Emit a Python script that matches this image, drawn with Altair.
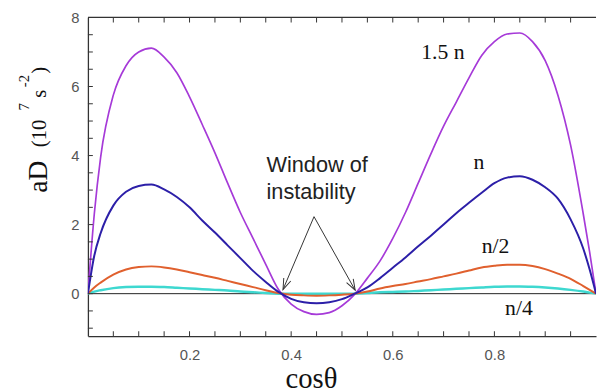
import altair as alt
import pandas as pd

# ---------------- data ----------------
X = [0, 0.0125, 0.025, 0.05, 0.075, 0.1, 0.125, 0.15, 0.175, 0.2, 0.225, 0.25,
     0.275, 0.3, 0.325, 0.35, 0.375, 0.4, 0.425, 0.45, 0.475, 0.5, 0.525, 0.55,
     0.575, 0.6, 0.625, 0.65, 0.675, 0.7, 0.725, 0.75, 0.775, 0.8, 0.825, 0.85,
     0.875, 0.9, 0.925, 0.95, 0.975, 0.9875, 1.0]

N15 = [0, 2.3, 3.95, 5.75, 6.6, 7.0, 7.11, 6.85, 6.4, 5.7, 4.9, 4.08, 3.2, 2.35,
       1.6, 0.85, 0.12, -0.3, -0.52, -0.6, -0.55, -0.35, -0.02, 0.45, 0.95, 1.6,
       2.35, 3.2, 4.05, 4.85, 5.55, 6.25, 6.9, 7.3, 7.52, 7.55, 7.3, 6.75, 5.75,
       4.3, 2.3, 1.2, 0]
N1 = [0, 1.1, 1.75, 2.55, 2.95, 3.12, 3.16, 3.02, 2.8, 2.5, 2.12, 1.77, 1.4, 1.03,
      0.66, 0.34, 0.05, -0.15, -0.25, -0.28, -0.25, -0.16, 0.0, 0.18, 0.45, 0.75,
      1.05, 1.37, 1.68, 2.0, 2.33, 2.63, 2.92, 3.2, 3.36, 3.4, 3.3, 3.08, 2.75,
      2.15, 1.3, 0.7, 0]
N2 = [0, 0.18, 0.32, 0.55, 0.7, 0.77, 0.79, 0.76, 0.7, 0.62, 0.54, 0.46, 0.37,
      0.28, 0.19, 0.1, 0.02, -0.03, -0.05, -0.06, -0.05, -0.03, 0.0, 0.06, 0.15,
      0.22, 0.28, 0.35, 0.42, 0.5, 0.58, 0.67, 0.76, 0.81, 0.84, 0.84, 0.8, 0.71,
      0.58, 0.43, 0.22, 0.11, 0]
N4 = [0, 0.06, 0.1, 0.16, 0.19, 0.2, 0.2, 0.19, 0.17, 0.15, 0.13, 0.11, 0.09,
      0.06, 0.04, 0.02, 0.0, 0.0, 0.0, 0.0, 0.0, 0.0, 0.0, 0.02, 0.04, 0.05, 0.06,
      0.08, 0.1, 0.12, 0.14, 0.16, 0.18, 0.2, 0.21, 0.21, 0.2, 0.18, 0.15, 0.11,
      0.06, 0.03, 0]

X_LABELS = [0.2, 0.4, 0.6, 0.8]
Y_LABELS = [0, 2, 4, 6, 8]
X_TICKS = [0.05, 0.1, 0.15, 0.2, 0.25, 0.3, 0.35, 0.4, 0.45, 0.5, 0.55, 0.6,
           0.65, 0.7, 0.75, 0.8, 0.85, 0.9, 0.95]
Y_TICKS = [-1, -0.5, 0, 0.5, 1, 1.5, 2, 2.5, 3, 3.5, 4, 4.5, 5, 5.5, 6, 6.5,
           7, 7.5]

# annotations (data coordinates)
ARROW_APEX = (0.445, 2.23)
ARROW_TIPS = [(0.384, 0.12), (0.526, 0.10)]
ARROW_ANGLES = [23, 331]
CURVE_LABELS = ["1.5 n", "n", "n/2", "n/4"]
CURVE_LABEL_X = [0.656, 0.759, 0.775, 0.821]
CURVE_LABEL_Y = [6.79, 3.61, 1.19, -0.63]

W, H = 515, 323
xscale = alt.Scale(domain=[0, 1], nice=False, zero=False)
yscale = alt.Scale(domain=[-1.23, 8.0], nice=False, zero=False)

AX = "#333333"
LAB = "#555555"

bottom_axis = alt.Axis(orient="bottom", values=X_LABELS, format=".1f", ticks=False,
                       tickSize=0, labelPadding=12, labelFont="Liberation Sans",
                       labelFontSize=15, labelColor=LAB, domainColor=AX,
                       domainWidth=1.3, grid=False, title=None)
left_axis = alt.Axis(orient="left", values=Y_LABELS, format="d", ticks=False,
                     tickSize=0, labelPadding=9, labelFont="Liberation Sans",
                     labelFontSize=15, labelColor=LAB, domainColor=AX,
                     domainWidth=1.3, grid=False, title=None)


def series_df(vals):
    return pd.DataFrame({"x": X, "y": vals})


def xq(field="x"):
    return alt.X(f"{field}:Q", scale=xscale, axis=None)


def yq(field="y"):
    return alt.Y(f"{field}:Q", scale=yscale, axis=None)


# curves (first layer carries the labelled axes)
l15 = alt.Chart(series_df(N15)).mark_line(
    color="#a63ad8", strokeWidth=1.7, clip=True, interpolate="monotone"
).encode(x=alt.X("x:Q", scale=xscale, axis=bottom_axis),
         y=alt.Y("y:Q", scale=yscale, axis=left_axis))
l1 = alt.Chart(series_df(N1)).mark_line(
    color="#2c1fa8", strokeWidth=2.0, clip=True, interpolate="monotone"
).encode(x=xq(), y=yq())
l2 = alt.Chart(series_df(N2)).mark_line(
    color="#e0602e", strokeWidth=2.0, clip=True, interpolate="monotone"
).encode(x=xq(), y=yq())
l4 = alt.Chart(series_df(N4)).mark_line(
    color="#3ed8d0", strokeWidth=2.5, clip=True, interpolate="monotone"
).encode(x=xq(), y=yq())

# frame decorations: inward ticks and top frame line
xt = pd.DataFrame({"x": X_TICKS})
yt = pd.DataFrame({"y": Y_TICKS})
ticks_bottom = alt.Chart(xt).mark_tick(
    orient="vertical", size=5, thickness=1, color=AX, opacity=1
).encode(x=xq(), y=alt.value(H - 2.5))
ticks_top = alt.Chart(xt).mark_tick(
    orient="vertical", size=5, thickness=1, color=AX, opacity=1
).encode(x=xq(), y=alt.value(2.5))
ticks_left = alt.Chart(yt).mark_tick(
    orient="horizontal", size=5, thickness=1, color=AX, opacity=1
).encode(y=yq(), x=alt.value(2.5))
top_frame = alt.Chart(pd.DataFrame({"y": [8.0]})).mark_rule(
    color=AX, strokeWidth=1.3
).encode(y=yq())

zero = alt.Chart(pd.DataFrame({"y": [0.0]})).mark_rule(
    color="#222222", strokeWidth=1
).encode(y=yq())

arrow_df = pd.DataFrame({
    "x": [ARROW_APEX[0]] * 2, "y": [ARROW_APEX[1]] * 2,
    "x2": [t[0] for t in ARROW_TIPS], "y2": [t[1] for t in ARROW_TIPS],
})
arrows = alt.Chart(arrow_df).mark_rule(color="#333333", strokeWidth=1).encode(
    x=xq(), y=yq(), x2="x2:Q", y2="y2:Q")

head_df = pd.DataFrame({"x": [t[0] for t in ARROW_TIPS],
                        "y": [t[1] for t in ARROW_TIPS],
                        "ang": ARROW_ANGLES})
heads = alt.Chart(head_df).mark_point(
    shape="M-0.35,-1L0,0L0.35,-1", filled=False, color="#333333",
    strokeWidth=1, size=484, opacity=1
).encode(x=xq(), y=yq(), angle=alt.Angle("ang:Q", scale=None))

win_df = pd.DataFrame({"x": [0.3515], "y": [3.51]})
window = alt.Chart(win_df).mark_text(
    text=["Window of", "instability"], font="Liberation Sans", fontSize=22,
    lineHeight=26.5, align="left", baseline="alphabetic", color="#222222"
).encode(x=xq(), y=yq())

lab_df = pd.DataFrame({"x": CURVE_LABEL_X, "y": CURVE_LABEL_Y, "t": CURVE_LABELS})
labels = alt.Chart(lab_df).mark_text(
    font="Liberation Serif", fontSize=22, align="left", baseline="alphabetic",
    color="#111111"
).encode(x=xq(), y=yq(), text="t:N")

ytitle_df = pd.DataFrame({
    "t": ["aD", "(10", "7", "s", "-2", ")"],
    "x": [-0.0796, -0.0816, -0.1165, -0.0816, -0.1165, -0.0816],
    "y": [3.39, 4.64, 5.41, 5.79, 6.16, 6.47],
    "fs": [28, 21, 15, 21, 15, 21],
})
ytitle = alt.Chart(ytitle_df).mark_text(
    font="Liberation Serif", angle=270, align="center", baseline="alphabetic",
    color="#111111"
).encode(x=xq(), y=yq(), text="t:N", size=alt.Size("fs:Q", scale=None))

xtitle_df = pd.DataFrame({"x": [0.44], "y": [-2.72], "t": ["cosθ"]})
xtitle = alt.Chart(xtitle_df).mark_text(
    font="Liberation Serif", fontSize=29, align="center", baseline="alphabetic",
    color="#111111"
).encode(x=xq(), y=yq(), text="t:N")

chart = alt.layer(
    l15, zero, l4, l2, l1, ticks_bottom, ticks_top, ticks_left, top_frame,
    arrows, heads, window, labels, ytitle, xtitle
).resolve_axis(x="independent", y="independent").properties(
    width=W, height=H,
    autosize=alt.AutoSizeParams(type="none"),
    padding={"left": 81, "top": 7, "right": 1, "bottom": 50},
    background="white",
).configure_view(stroke=None)

chart.save("out.html", embed_options={"renderer": "svg", "actions": False})
